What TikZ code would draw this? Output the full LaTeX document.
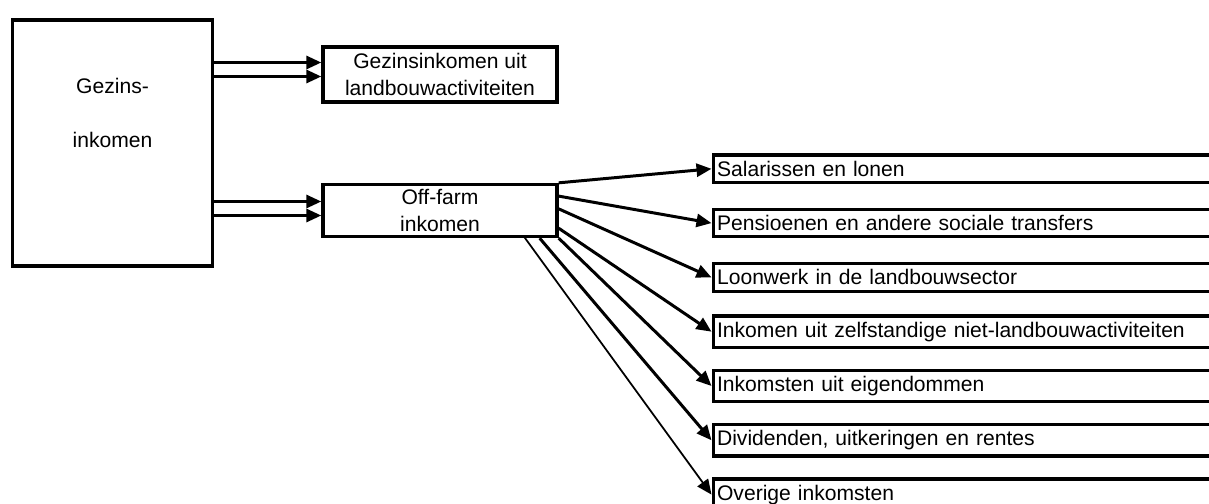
\documentclass[tikz,border=0pt]{standalone}
\usepackage{fontspec}
\setmainfont{Liberation Sans}
\usetikzlibrary{calc, arrows.meta}

\begin{document}
\begin{tikzpicture}[scale=1.0,
  font=\fontsize{12}{15.5}\selectfont,
  kader/.style={draw, line width=1.9pt, inner sep=0pt, align=center},
  bron/.style={draw, line width=1.8pt, anchor=west, minimum height=0.55cm,
    text width=11.8cm, inner xsep=0.08cm, align=left},
  pijl/.style={line width=1.7pt, -{Triangle[length=0.3cm, width=0.26cm]}},
  dunpijl/.style={line width=1pt, -{Triangle[length=0.3cm, width=0.26cm]}}]
  \useasboundingbox (0,0) rectangle (24.18,10.06);
  \clip (0,0) rectangle (24.18,10.06);

  \node[kader, minimum width=4cm, minimum height=4.92cm] (gezin) at (2.25,7.2) {};
  \node[align=center] (gezintekst) at (2.25,7.8) {Gezins-\\[15pt]inkomen};
  \node[kader, minimum width=4.68cm, minimum height=1.1cm] (land) at (8.8,8.57)
    {Gezinsinkomen uit\\landbouwactiviteiten};
  \node[kader, minimum width=4.68cm, minimum height=1.04cm] (off) at (8.8,5.85)
    {Off-farm\\inkomen};

  % bronnen van off-farm inkomen
  \node[bron] (sal) at (14.23,6.684) {Salarissen en lonen};
  \node[bron] (pen) at (14.23,5.598) {Pensioenen en andere sociale transfers};
  \node[bron] (loon) at (14.23,4.512) {Loonwerk in de landbouwsector};
  \node[bron] (zelf) at (14.23,3.426) {Inkomen uit zelfstandige niet-landbouwactiviteiten};
  \node[bron] (eig) at (14.23,2.34) {Inkomsten uit eigendommen};
  \node[bron] (div) at (14.23,1.254) {Dividenden, uitkeringen en rentes};
  \node[bron] (ov) at (14.23,0.168) {Overige inkomsten};

  \draw[pijl] ($(gezin.east |- land.west)+(0,0.24)$) -- ($(land.west)+(0,0.24)$);
  \draw[pijl] ($(gezin.east |- land.west)+(0,-0.04)$) -- ($(land.west)+(0,-0.04)$);
  \draw[pijl] ($(gezin.east |- off.west)+(0,0.18)$) -- ($(off.west)+(0,0.18)$);
  \draw[pijl] ($(gezin.east |- off.west)+(0,-0.10)$) -- ($(off.west)+(0,-0.10)$);

  \draw[pijl] (off.north east) -- (sal.west);
  \draw[pijl] ($(off.north east)!0.24!(off.south east)$) -- (pen.west);
  \draw[pijl] ($(off.north east)!0.47!(off.south east)$) -- (loon.west);
  \draw[pijl] ($(off.north east)!0.82!(off.south east)$) -- (zelf.west);
  \draw[pijl] (off.south east) -- (eig.west);
  \draw[pijl] ($(off.south east)+(-0.38,0)$) -- (div.west);
  \draw[dunpijl] ($(off.south east)+(-0.70,0.04)$) -- (ov.west);
\end{tikzpicture}
\end{document}
